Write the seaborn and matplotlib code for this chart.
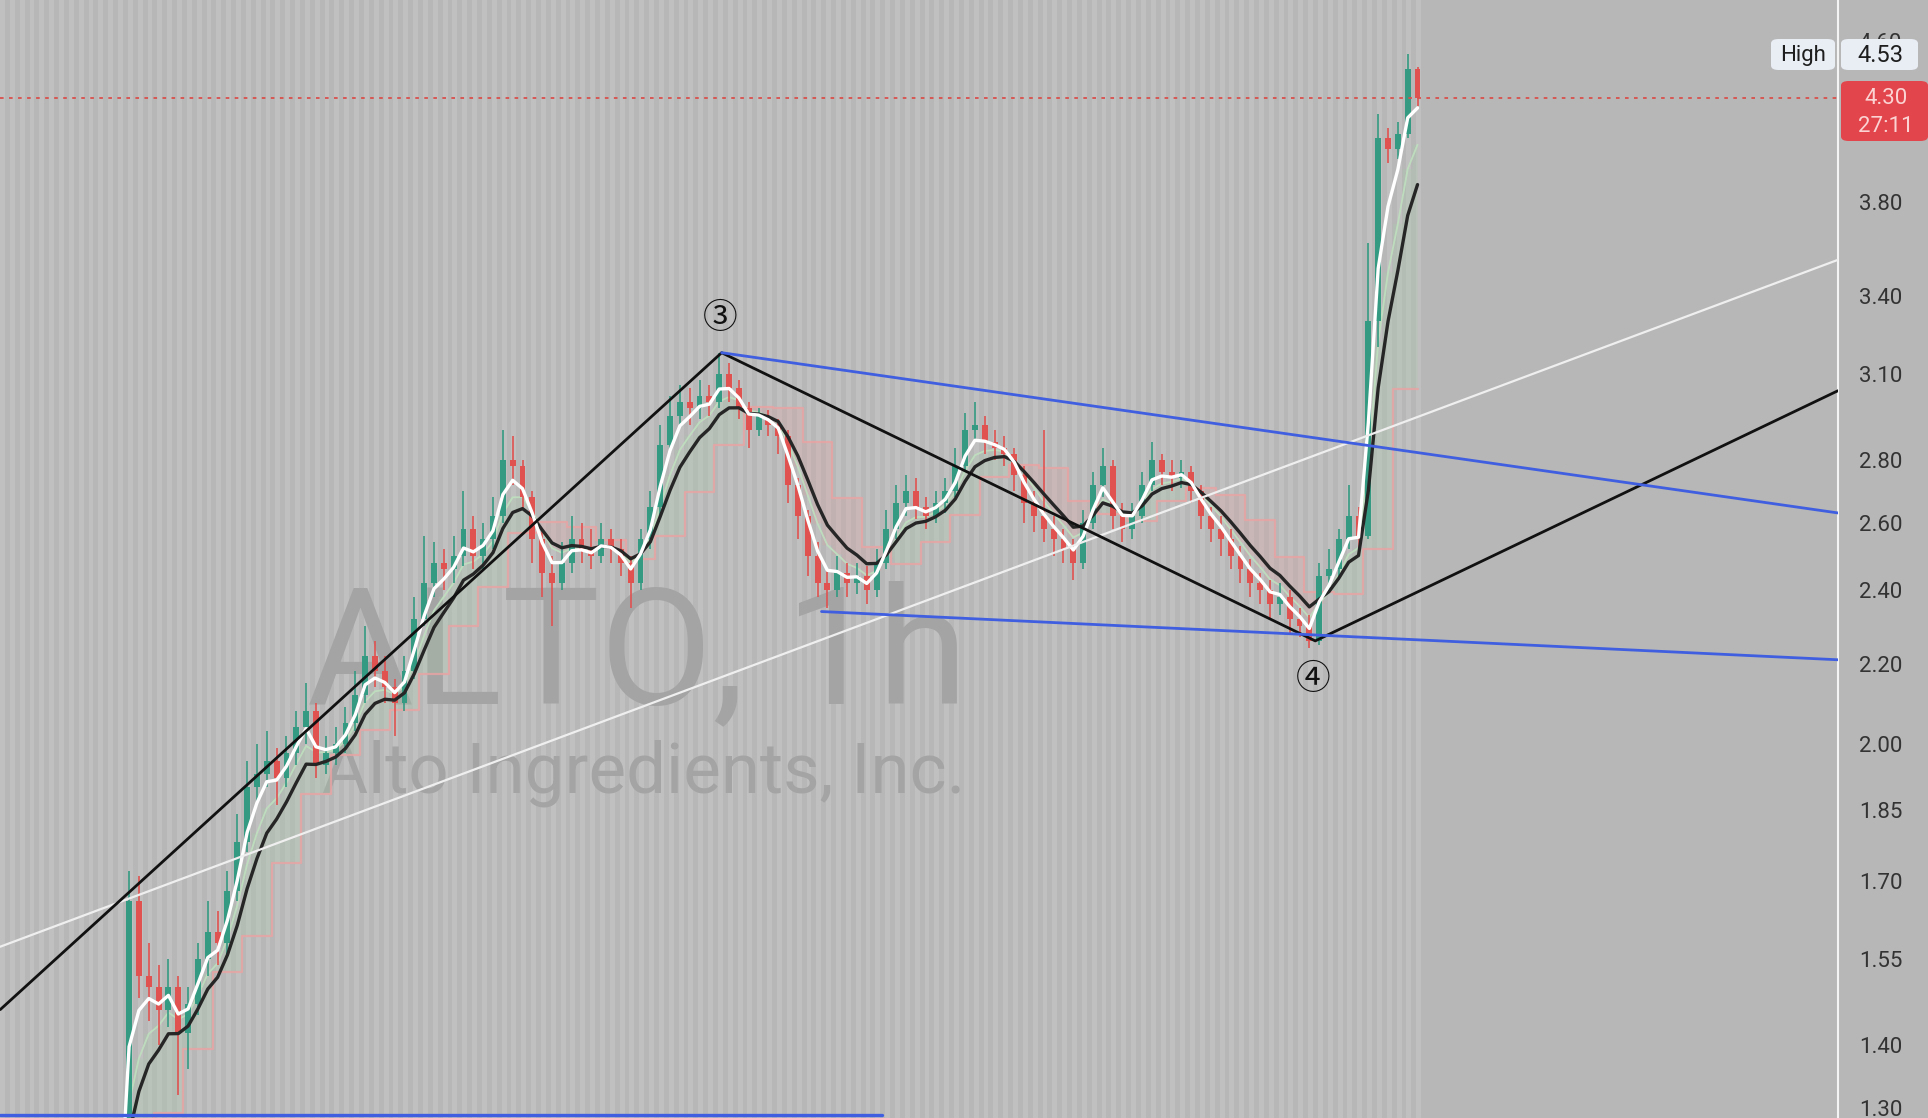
import numpy as np
import pandas as pd
import matplotlib.pyplot as plt
import matplotlib.patches as mpatches
import seaborn as sns

# bars before the gap-up (they sit below the visible price range)
pre_close = [1.09, 1.10, 1.12, 1.11, 1.10, 1.12, 1.13, 1.11, 1.12, 1.14, 1.13, 1.14]
pre_high = [1.11, 1.12, 1.14, 1.13, 1.12, 1.14, 1.15, 1.13, 1.14, 1.16, 1.15, 1.16]
pre_low = [1.07, 1.08, 1.09, 1.09, 1.08, 1.10, 1.11, 1.09, 1.10, 1.12, 1.11, 1.12]
first_open = 1.08

# ALTO 1h closes / highs / lows
closes = [1.66, 1.52, 1.50, 1.46, 1.50, 1.42, 1.47, 1.55, 1.60, 1.58,
          1.68, 1.78, 1.90, 1.93, 1.96, 1.92, 1.98, 2.04, 2.08, 1.95,
          1.98, 2.00, 2.05, 2.12, 2.22, 2.18, 2.14, 2.10, 2.18, 2.32,
          2.42, 2.48, 2.46, 2.50, 2.58, 2.50, 2.55, 2.62, 2.80, 2.78,
          2.68, 2.55, 2.45, 2.42, 2.48, 2.55, 2.52, 2.50, 2.55, 2.52,
          2.48, 2.42, 2.55, 2.65, 2.85, 2.95, 3.00, 2.98, 3.02, 3.00,
          3.10, 3.05, 2.98, 2.90, 2.95, 2.92, 2.88, 2.72, 2.62, 2.50,
          2.42, 2.40, 2.45, 2.42, 2.44, 2.40, 2.48, 2.58, 2.66, 2.70,
          2.65, 2.62, 2.66, 2.70, 2.78, 2.90, 2.92, 2.86, 2.84, 2.82,
          2.75, 2.66, 2.62, 2.58, 2.55, 2.52, 2.48, 2.60, 2.72, 2.78,
          2.62, 2.58, 2.62, 2.72, 2.80, 2.76, 2.74, 2.76, 2.70, 2.62,
          2.58, 2.55, 2.50, 2.46, 2.42, 2.40, 2.36, 2.38, 2.32, 2.30,
          2.26, 2.44, 2.46, 2.55, 2.62, 2.56, 3.30, 4.10, 4.05, 4.12,
          4.45, 4.30]
highs = [1.72, 1.71, 1.58, 1.54, 1.55, 1.52, 1.50, 1.58, 1.66, 1.64,
         1.72, 1.84, 1.96, 2.00, 2.03, 1.99, 2.02, 2.08, 2.15, 2.10,
         2.02, 2.04, 2.09, 2.18, 2.30, 2.26, 2.22, 2.16, 2.22, 2.38,
         2.56, 2.54, 2.52, 2.56, 2.70, 2.62, 2.60, 2.68, 2.90, 2.88,
         2.80, 2.70, 2.58, 2.50, 2.54, 2.62, 2.60, 2.58, 2.60, 2.58,
         2.55, 2.50, 2.58, 2.70, 2.92, 3.02, 3.06, 3.05, 3.08, 3.06,
         3.18, 3.14, 3.08, 3.00, 2.98, 2.97, 2.94, 2.90, 2.74, 2.64,
         2.54, 2.46, 2.50, 2.48, 2.48, 2.47, 2.52, 2.64, 2.72, 2.75,
         2.74, 2.68, 2.70, 2.74, 2.84, 2.96, 3.00, 2.95, 2.90, 2.88,
         2.84, 2.78, 2.70, 2.90, 2.62, 2.58, 2.55, 2.64, 2.76, 2.84,
         2.80, 2.66, 2.66, 2.76, 2.86, 2.82, 2.80, 2.80, 2.78, 2.72,
         2.65, 2.62, 2.58, 2.53, 2.49, 2.45, 2.43, 2.42, 2.40, 2.35,
         2.33, 2.48, 2.52, 2.58, 2.72, 2.65, 3.62, 4.22, 4.15, 4.18,
         4.53, 4.46]
lows = [1.12, 1.48, 1.44, 1.40, 1.43, 1.32, 1.36, 1.45, 1.52, 1.54,
        1.56, 1.66, 1.76, 1.86, 1.90, 1.86, 1.90, 1.95, 2.00, 1.92,
        1.93, 1.95, 1.98, 2.03, 2.10, 2.14, 2.10, 2.02, 2.08, 2.16,
        2.30, 2.38, 2.40, 2.42, 2.47, 2.46, 2.46, 2.52, 2.60, 2.72,
        2.64, 2.48, 2.38, 2.30, 2.40, 2.45, 2.48, 2.46, 2.48, 2.48,
        2.44, 2.35, 2.40, 2.52, 2.62, 2.82, 2.92, 2.92, 2.94, 2.95,
        2.98, 3.00, 2.94, 2.84, 2.88, 2.88, 2.82, 2.66, 2.55, 2.44,
        2.38, 2.35, 2.38, 2.38, 2.39, 2.36, 2.38, 2.46, 2.55, 2.62,
        2.61, 2.58, 2.60, 2.63, 2.68, 2.76, 2.86, 2.82, 2.80, 2.78,
        2.70, 2.60, 2.57, 2.54, 2.50, 2.48, 2.43, 2.46, 2.58, 2.68,
        2.58, 2.54, 2.55, 2.60, 2.70, 2.72, 2.70, 2.71, 2.66, 2.58,
        2.54, 2.50, 2.46, 2.42, 2.38, 2.36, 2.32, 2.33, 2.28, 2.27,
        2.24, 2.25, 2.40, 2.43, 2.52, 2.52, 2.55, 3.20, 3.98, 4.00,
        4.10, 4.26]

# drawn lines (bar index, price)
wave_x = [-13.1, 60.25, 120.6, 173.75]
wave_y = [1.46, 3.18, 2.26, 3.04]
trend_x = [-13.1, 173.75]
trend_y = [1.573, 3.55]
chan_top_x = [60.25, 173.75]
chan_top_y = [3.18, 2.63]
chan_bot_x = [70.4, 173.75]
chan_bot_y = [2.34, 2.21]
support_x = [-13.1, 76.5]
support_y = [1.289, 1.289]

price_ticks = [1.30, 1.40, 1.55, 1.70, 1.85, 2.00, 2.20, 2.40, 2.60, 2.80, 3.10, 3.40, 3.80, 4.60]
last_price = 4.30
high_price = 4.53

n_pre = len(pre_close)
df = pd.DataFrame({
    'i': np.arange(n_pre + len(closes)) - n_pre,
    'close': pre_close + closes,
    'high': pre_high + highs,
    'low': pre_low + lows,
})
df['open'] = df['close'].shift(1).fillna(first_open)
df['fast'] = df['close'].ewm(span=3, adjust=False).mean()
df['mid'] = df['close'].ewm(span=5, adjust=False).mean()
df['slow'] = df['close'].ewm(span=7, adjust=False).mean()
df['htf'] = df['close'].rolling(10, min_periods=1).mean()
df['htf'] = df.groupby((df['i'] + 120) // 3)['htf'].transform('first')

sns.set_theme(style='white')
plt.rcParams['font.family'] = ['Roboto', 'DejaVu Sans']

W, H = 1928, 1118
bg = '#b7b7b7'
fig = plt.figure(figsize=(W / 100, H / 100), dpi=100, facecolor=bg)
ax = fig.add_axes([0, 0, 1838 / W, 1])
ax.set_facecolor(bg)
ax.set_yscale('log')
x_lo, x_hi = -13.125, 173.75
ax.set_xlim(x_lo, x_hi)
ax.set_ylim(1.284, 4.83)

# session stripes
for k in np.arange(x_lo, df['i'].max() + 0.5, 0.5):
    if int(round(k * 2)) % 2 == 0:
        ax.axvspan(k, k + 0.5, color='#c0c0c0', lw=0, zorder=0)

# watermark
ax.text(0.1673, 0.371, 'ALTO, 1h', transform=ax.transAxes, fontsize=118,
        color='#a4a4a4', ha='left', va='baseline', zorder=1)
ax.text(0.1753, 0.2907, 'Alto Ingredients, Inc.', transform=ax.transAxes, fontsize=51,
        color='#a4a4a4', ha='left', va='baseline', zorder=1)

# indicator cloud
ax.fill_between(df['i'], df['mid'], df['htf'], where=df['mid'] >= df['htf'],
                interpolate=True, color='#a9cfa9', alpha=0.25, lw=0, zorder=2, step='mid')
ax.fill_between(df['i'], df['mid'], df['htf'], where=df['mid'] < df['htf'],
                interpolate=True, color='#e6a0a0', alpha=0.25, lw=0, zorder=2, step='mid')
ax.plot(df['i'], df['htf'], drawstyle='steps-mid', color='#eaa3a3', lw=1.6, alpha=0.8, zorder=2)
ax.plot(df['i'], df['mid'], color='#bfe0bf', lw=1.3, alpha=0.9, zorder=2)

# candles
up = df['close'] >= df['open']
colors = np.where(up, '#349a82', '#df5250')
ax.vlines(df['i'], df['low'], df['high'], colors=colors, lw=1.2, zorder=3)
ax.bar(df['i'], (df['close'] - df['open']).abs().clip(lower=0.004),
       bottom=np.minimum(df['open'], df['close']), width=0.6, color=colors, lw=0, zorder=3)

# moving averages
sns.lineplot(data=df, x='i', y='slow', ax=ax, color='#262626', lw=2.4, zorder=4, legend=False)
sns.lineplot(data=df, x='i', y='fast', ax=ax, color='#ffffff', lw=2.4, zorder=4, legend=False)

# drawings
ax.plot(trend_x, trend_y, color='#efefef', lw=1.6, zorder=5)
ax.plot(wave_x, wave_y, color='#111111', lw=2.0, zorder=5)
ax.plot(chan_top_x, chan_top_y, color='#3f5fe0', lw=2.0, zorder=5)
ax.plot(chan_bot_x, chan_bot_y, color='#3f5fe0', lw=2.0, zorder=5)
ax.plot(support_x, support_y, color='#3f5fe0', lw=2.4, zorder=5)
ax.axhline(last_price, color='#d9504c', lw=1.3, ls=(0, (2, 3)), zorder=5)

circ = ['Noto Sans CJK JP', 'DejaVu Sans']
ax.text(60.1, 3.31, '③', fontsize=25, ha='center', va='center', family=circ, color='#111111', zorder=6)
ax.text(120.4, 2.158, '④', fontsize=25, ha='center', va='center', family=circ, color='#111111', zorder=6)

# price axis on the right
ax.yaxis.tick_right()
ax.set_yticks(price_ticks)
ax.set_yticklabels([f'{t:.2f}' for t in price_ticks])
ax.yaxis.set_minor_locator(plt.NullLocator())
ax.tick_params(axis='y', length=0, pad=15, labelsize=16, labelcolor='#333333')
ax.set_xticks([])
ax.set_xlabel('')
ax.set_ylabel('')
for side in ['top', 'bottom', 'left']:
    ax.spines[side].set_visible(False)
ax.spines['right'].set_color('#f4f4f4')
ax.spines['right'].set_linewidth(1.5)


def fx(px):
    return px / W


def fy(py):
    return 1 - py / H


def label_box(x0, y0, x1, y1, color):
    fig.add_artist(mpatches.FancyBboxPatch(
        (fx(x0), fy(y1)), fx(x1 - x0), (y1 - y0) / H,
        boxstyle='round,pad=0,rounding_size=0.004', transform=fig.transFigure,
        facecolor=color, edgecolor='none', zorder=10))


label_box(1771, 39, 1835, 70, '#e9eef5')
label_box(1841, 39, 1918, 70, '#e9eef5')
label_box(1841, 81, 1928, 141, '#e2454b')
fig.text(fx(1803), fy(55), 'High', fontsize=16, color='#1e1e1e', ha='center', va='center', zorder=11)
fig.text(fx(1880), fy(55), f'{high_price:.2f}', fontsize=17, color='#1e1e1e', ha='center', va='center', zorder=11)
fig.text(fx(1886), fy(98), f'{last_price:.2f}', fontsize=16, color='#fbd3d3', ha='center', va='center', zorder=11)
fig.text(fx(1886), fy(126), '27:11', fontsize=16, color='#fbd3d3', ha='center', va='center', zorder=11)

fig.savefig('out.png', dpi=100, facecolor=bg)
